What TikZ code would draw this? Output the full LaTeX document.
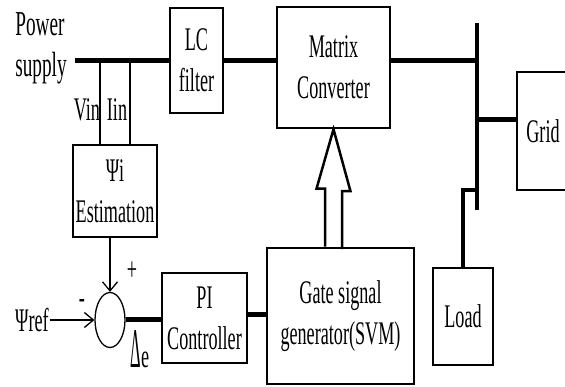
\documentclass[tikz,border=0pt]{standalone}
\usepackage{fontspec}
\setmainfont{Liberation Serif}[FakeStretch=0.55]
\usetikzlibrary{arrows.meta,shapes.geometric}
\begin{document}
\begin{tikzpicture}[x=1pt, y=-1pt, every node/.style={inner sep=1pt, font=\fontsize{33}{41}\selectfont},
	blk/.style={draw, line width=2.5pt, align=center},
	pw/.style={line width=5pt},
	sg/.style={line width=1.3pt},
	tip/.style={-{Straight Barb[length=9pt, width=15pt]}}]
				\useasboundingbox (0,0) rectangle (565,387);
				\node[align=left, font=\fontsize{35}{41}\selectfont] (ps) at (41,48) {Power\\supply};
				\node[blk, minimum width=53pt, minimum height=105pt] (lc) at (196.5,60.5) {LC\\filter};
				\node[blk, minimum width=113pt, minimum height=121pt] (mc) at (333.5,67.5) {Matrix\\Converter};
				\node[blk, minimum width=52pt, minimum height=118pt] (grid) at (543,131) {Grid};
				\node[blk, minimum width=60pt, minimum height=97pt] (load) at (463,316.5) {Load};
				\node[blk, minimum width=147pt, minimum height=136pt] (gs) at (340.5,316) {Gate signal\\generator(SVM)};
				\node[blk, minimum width=84pt, minimum height=92pt] (est) at (115,191) {Ψi\\Estimation};
				\node[blk, minimum width=85pt, minimum height=90pt] (pi) at (204.5,318) {PI\\Controller};
				\node[draw, sg, ellipse, minimum width=30pt, minimum height=55pt, inner sep=0pt] (sum) at (110,320) {};
				\node (ref) at (32,320) {Ψref};
				\node (vin) at (87,110) {Vin};
				\node (iin) at (117,110) {Iin};
				\node (plus) at (132,271) {+};
				\node (minus) at (82,304) {-};
				\node (de) at (140,349) {\scalebox{0.9}[1.7]{Δ}e};
%				bus and taps
				\coordinate (psend) at (75,61);
				\coordinate (vtap) at (100,61);
				\coordinate (itap) at (130,61);
				\coordinate (bt) at (477,23);
				\coordinate (bb) at (477,210);
				\coordinate (gtap) at (477,120);
				\coordinate (ltap) at (477,190);
				\draw[pw] (psend)--(lc.west |- psend);
				\draw[pw] (lc.east)--(lc.east -| mc.west);
				\draw[pw] (lc.east -| mc.east)--(lc.east -| bt);
				\draw[line width=4pt] (bt)--(bb);
				\draw[pw] (gtap)--(gtap -| grid.west);
				\draw[line width=4pt] (ltap)-|(load.north);
				\draw[sg] (vtap)--(vtap |- est.north);
				\draw[sg] (itap)--(itap |- est.north);
				\draw[sg, tip] (sum.north |- est.south)--(sum.north);
				\draw[sg, tip] (ref)--(sum.west);
				\draw[pw] (sum.east)--(sum.east -| pi.west);
				\draw[pw] (pi.east |- 0,315)--(gs.west |- 0,315);
				\draw[line width=2.5pt] (mc.south |- gs.north) ++(-8.5,0) -- ++(0,-58) -- ++(-8.5,0) -- (mc.south) -- ++(17,62) -- ++(-8.5,0) -- ++(0,58);
			\end{tikzpicture}
\end{document}
